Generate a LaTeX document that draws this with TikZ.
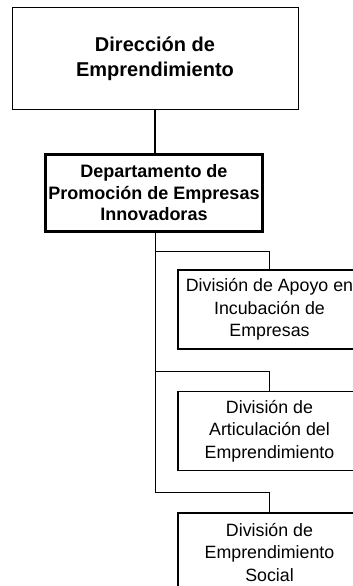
\documentclass[tikz,border=0pt]{standalone}
\usepackage{fontspec}
\setmainfont{Liberation Sans}
\tikzset{
  topbox/.style={draw=black, line width=1pt, inner sep=0pt, align=center,
    minimum width=286pt, minimum height=101pt,
    font=\fontsize{20}{25}\selectfont\bfseries},
  deptbox/.style={draw=black, line width=3pt, inner sep=0pt, align=center,
    minimum width=217pt, minimum height=77pt,
    font=\fontsize{18}{21.5}\selectfont\bfseries},
  divbox/.style={draw=black, line width=1.3pt, inner sep=0pt, align=center,
    minimum width=183pt, minimum height=79pt,
    font=\fontsize{17.8}{22.5}\selectfont},
  link/.style={draw=black, line width=0.9pt},
  mainlink/.style={draw=black, line width=1.4pt}
}
\begin{document}
\begin{tikzpicture}[x=1pt,y=1pt]
\useasboundingbox (0,0) rectangle (353,-586);
\clip (0,0) rectangle (353,-586);
\node[topbox] (dir) at (155,-58.5) {Dirección de\\Emprendimiento};
\node[deptbox] (dept) at (154,-193) {Departamento de\\Promoción de Empresas\\Innovadoras};
\node[divbox] (d1) at (269.5,-309.5) {División de Apoyo en\\Incubación de\\Empresas};
\node[divbox] (d2) at (269.5,-431) {División de\\Articulación del\\Emprendimiento};
\node[divbox] (d3) at (269.5,-552.5) {División de\\Emprendimiento\\Social};
\draw[mainlink] (dir.south) -- (dir.south |- dept.north);
\draw[link] (dept.south -| dir.south) |- ([yshift=18pt]d1.north) -- (d1.north);
\draw[link] (dept.south -| dir.south) |- ([yshift=19pt]d2.north) -- (d2.north);
\draw[link] (dept.south -| dir.south) |- ([yshift=20pt]d3.north) -- (d3.north);
\end{tikzpicture}
\end{document}
